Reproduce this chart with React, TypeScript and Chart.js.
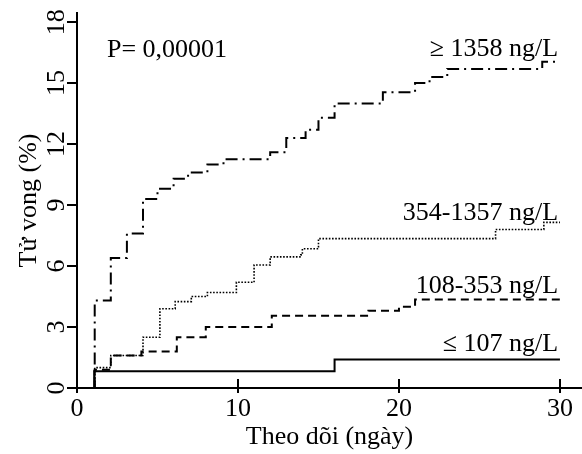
import React, { useEffect, useRef } from "react";
import { Chart, registerables } from "chart.js";

Chart.register(...registerables);

const FONT = "'Liberation Serif', 'Times New Roman', serif";

// Kaplan-Meier style step curves: event times (days) and cumulative mortality (%)
const lowTimes = [1.07, 1.07, 16.0, 30];
const lowValues = [0, 0.82, 1.4, 1.4];

const midLowTimes = [1.07, 1.1, 2.1, 4.0, 6.2, 8.0, 12.1, 18.1, 20.0, 21.0, 30];
const midLowValues = [0, 0.9, 1.6, 1.8, 2.5, 3.0, 3.55, 3.8, 4.0, 4.35, 4.35];

const midHighTimes = [1.07, 1.1, 2.1, 4.1, 5.15, 6.1, 7.1, 8.1, 9.9, 11.0, 12.0, 13.9, 14.0, 15.0, 26.0, 29.0, 30];
const midHighValues = [0, 1.0, 1.6, 2.5, 3.9, 4.25, 4.5, 4.7, 5.2, 6.05, 6.45, 6.55, 6.85, 7.35, 7.8, 8.15, 8.15];

const highTimes = [1.07, 1.1, 2.1, 3.1, 4.1, 5.0, 6.0, 6.9, 8.1, 9.1, 12.0, 13.0, 14.2, 15.0, 16.0, 19.0, 21.0, 21.9, 23.0, 28.9, 30];
const highValues = [0, 4.3, 6.4, 7.6, 9.3, 9.8, 10.3, 10.6, 11.0, 11.25, 11.6, 12.3, 12.7, 13.3, 14.0, 14.55, 15.0, 15.3, 15.7, 16.05, 16.05];

const xTicks = [0, 10, 20, 30];
const yTicks = [0, 3, 6, 9, 12, 15, 18];

const xTitle = "Theo dõi (ngày)";
const yTitle = "Tử vong (%)";

const seriesNames = ["≤ 107 ng/L", "108-353 ng/L", "354-1357 ng/L", "≥ 1358 ng/L"];
const seriesLabelY = [1.83, 4.66, 8.26, 16.33];
const labelX = 29.88;
const pText = "P= 0,00001";
const pX = 1.86;
const pY = 16.28;

const toPoints = (t: number[], v: number[]) => t.map((x, i) => ({ x, y: v[i] }));

export default function App() {
  const ref = useRef<HTMLCanvasElement | null>(null);

  useEffect(() => {
    if (!ref.current) return;

    const annotations = {
      id: "annotations",
      afterDraw(chart: any) {
        const { ctx } = chart;
        const xs = chart.scales.x;
        const ys = chart.scales.y;
        ctx.save();
        // inward part of x tick marks
        ctx.strokeStyle = "#000";
        ctx.lineWidth = 2;
        xTicks.forEach((t) => {
          if (t === 0) return;
          const px = Math.round(xs.getPixelForValue(t));
          ctx.beginPath();
          ctx.moveTo(px, ys.bottom);
          ctx.lineTo(px, ys.bottom - 9);
          ctx.stroke();
        });
        ctx.fillStyle = "#000";
        ctx.font = `26px ${FONT}`;
        ctx.textBaseline = "alphabetic";
        ctx.textAlign = "left";
        ctx.fillText(pText, xs.getPixelForValue(pX), ys.getPixelForValue(pY));
        ctx.textAlign = "right";
        seriesNames.forEach((name, i) => {
          ctx.fillText(name, xs.getPixelForValue(labelX), ys.getPixelForValue(seriesLabelY[i]));
        });
        ctx.restore();
      },
    };

    const common = {
      borderColor: "#000",
      backgroundColor: "#000",
      pointRadius: 0,
      stepped: true as const,
      fill: false,
      tension: 0,
    };

    const chart = new Chart(ref.current, {
      type: "line",
      data: {
        datasets: [
          { ...common, label: seriesNames[0], data: toPoints(lowTimes, lowValues), borderWidth: 2 },
          { ...common, label: seriesNames[1], data: toPoints(midLowTimes, midLowValues), borderWidth: 2, borderDash: [8, 5] },
          { ...common, label: seriesNames[2], data: toPoints(midHighTimes, midHighValues), borderWidth: 1.6, borderDash: [1.6, 1.6] },
          { ...common, label: seriesNames[3], data: toPoints(highTimes, highValues), borderWidth: 2, borderDash: [12, 5, 2, 5] },
        ],
      },
      options: {
        animation: false,
        responsive: false,
        devicePixelRatio: 1,
        layout: { autoPadding: false, padding: { top: 13, right: 0, left: 0, bottom: 0 } },
        plugins: { legend: { display: false }, tooltip: { enabled: false } },
        scales: {
          x: {
            type: "linear",
            min: 0,
            max: 31.37,
            afterBuildTicks: (scale: any) => {
              scale.ticks = xTicks.map((value) => ({ value }));
            },
            afterFit: (scale: any) => {
              scale.height = 66;
              scale.paddingLeft = 0;
              scale.paddingRight = 0;
            },
            border: { display: true, color: "#000", width: 2 },
            grid: { drawOnChartArea: false, drawTicks: true, tickLength: 5, color: "#000", lineWidth: 2 },
            ticks: { color: "#000", font: { family: FONT, size: 26 }, padding: 1, maxRotation: 0, autoSkip: false },
            title: { display: true, text: xTitle, color: "#000", font: { family: FONT, size: 26 }, padding: { top: 0, bottom: 1 } },
          },
          y: {
            type: "linear",
            min: 0,
            max: 18.45,
            afterBuildTicks: (scale: any) => {
              scale.ticks = yTicks.map((value) => ({ value }));
            },
            afterFit: (scale: any) => {
              scale.width = 77;
              scale.paddingTop = 0;
              scale.paddingBottom = 0;
            },
            border: { display: true, color: "#000", width: 2 },
            grid: { drawOnChartArea: false, drawTicks: true, tickLength: 10, color: "#000", lineWidth: 2 },
            ticks: {
              color: "#000",
              font: { family: FONT, size: 26 },
              padding: -3,
              minRotation: 90,
              maxRotation: 90,
              crossAlign: "center",
              autoSkip: false,
            },
            title: { display: true, text: yTitle, color: "#000", font: { family: FONT, size: 26 }, padding: { top: 14, bottom: 0 } },
          },
        },
      },
      plugins: [annotations],
    });

    return () => chart.destroy();
  }, []);

  return (
    <div style={{ position: "absolute", left: 0, top: 0, width: 582, height: 454, background: "#fff" }}>
      <canvas ref={ref} width={582} height={454} style={{ width: 582, height: 454 }} />
    </div>
  );
}
